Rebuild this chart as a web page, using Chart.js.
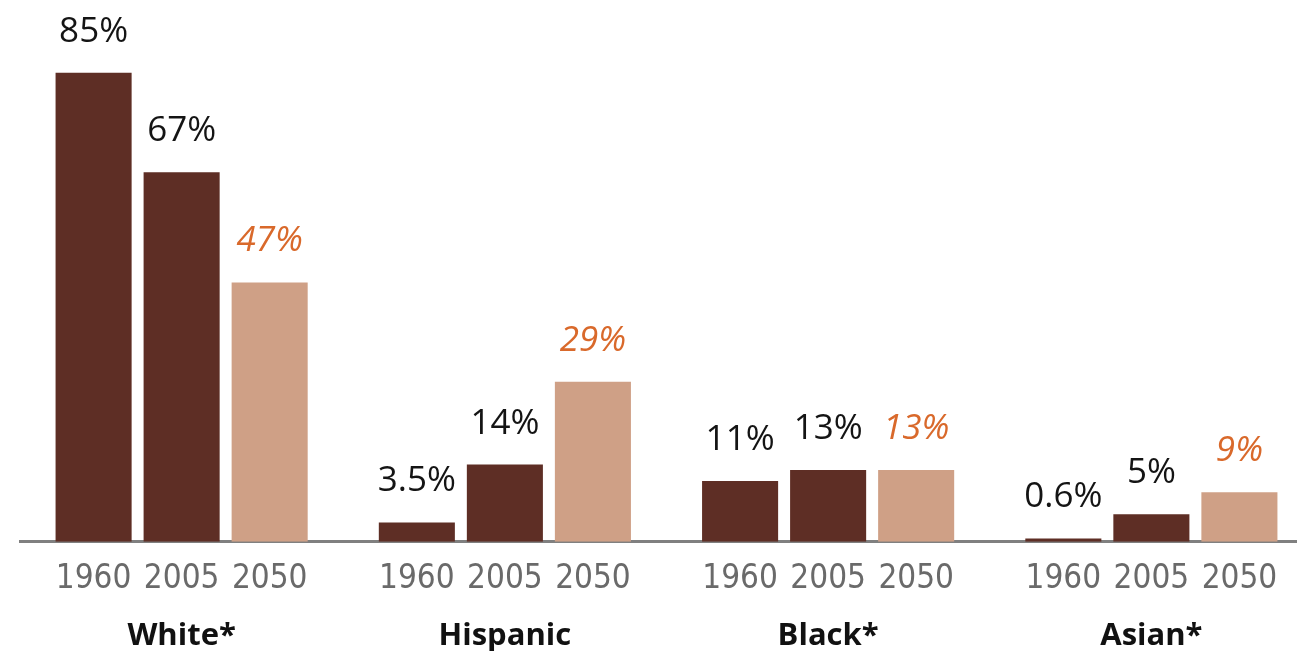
<!DOCTYPE html>
<html>
<head>
<meta charset="utf-8">
<script src="https://cdn.jsdelivr.net/npm/chart.js@4"></script>
<style>
  html, body { margin: 0; padding: 0; background: #fff; overflow: hidden; }
  #wrap { width: 1320px; height: 731px; }
</style>
</head>
<body>
<div id="wrap"><canvas id="myChart"></canvas></div>
<script>
// groups and years
const groups = ["White*", "Hispanic", "Black*", "Asian*"];
const years = ["1960", "2005", "2050"];

// share of population, percent
const v1960 = [85, 3.5, 11, 0.6];
const v2005 = [67, 14, 13, 5];
const v2050 = [47, 29, 13, 9];

const dark = "#5e2e25";
const light = "#cfa086";

// value labels above bars + year labels under each bar
const barLabels = {
    id: "barLabels",
    afterDatasetsDraw(chart) {
        let ctx = chart.ctx;
        let base = chart.scales.y.getPixelForValue(0);
        chart.data.datasets.forEach((ds, i) => {
            let meta = chart.getDatasetMeta(i);
            meta.data.forEach((bar, j) => {
                ctx.save();
                ctx.textAlign = "center";
                ctx.textBaseline = "alphabetic";
                if (i == 2) {
                    ctx.font = "italic 35px 'Open Sans'";
                    ctx.fillStyle = "#d9692b";
                } else {
                    ctx.font = "35px 'Open Sans'";
                    ctx.fillStyle = "#141414";
                }
                ctx.fillText(ds.data[j] + "%", bar.x, bar.y - 31);

                ctx.font = "33px 'Liberation Sans Narrow', 'DejaVu Sans Condensed', sans-serif";
                ctx.fillStyle = "#6a6a6a";
                ctx.fillText(years[i], bar.x, base + 46);
                ctx.restore();
            });
        });
    }
};

const ctx = document.getElementById("myChart");

new Chart(ctx, {
    type: "bar",
    data: {
        labels: groups,
        datasets: [
            { label: years[0], data: v1960, backgroundColor: dark },
            { label: years[1], data: v2005, backgroundColor: dark },
            { label: years[2], data: v2050, backgroundColor: light }
        ]
    },
    options: {
        responsive: true,
        maintainAspectRatio: false,
        animation: false,
        categoryPercentage: 0.817,
        barPercentage: 0.864,
        layout: { padding: { left: 20, right: 7, top: 0, bottom: 0 } },
        plugins: {
            legend: { display: false },
            tooltip: { enabled: false }
        },
        scales: {
            y: {
                display: false,
                min: 0,
                max: 98.2
            },
            x: {
                grid: { display: false, drawTicks: false },
                border: { display: true, color: "#808080", width: 3 },
                ticks: {
                    padding: 76,
                    color: "#111",
                    font: { family: "'Open Sans'", size: 31, weight: "bold" }
                }
            }
        }
    },
    plugins: [barLabels]
});
</script>
</body>
</html>
